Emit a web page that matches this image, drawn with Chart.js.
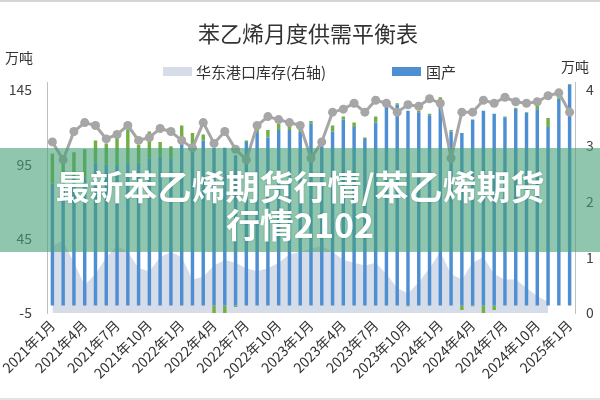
<!DOCTYPE html>
<html><head><meta charset="utf-8">
<script src="https://cdn.jsdelivr.net/npm/chart.js@4.4.1/dist/chart.umd.min.js"></script>
<style>
html,body{margin:0;padding:0;background:#fff;}
#wrap{position:relative;width:600px;height:400px;overflow:hidden;background:#fff;}
#clip{position:absolute;left:0;top:0;width:594px;height:400px;overflow:hidden;}
#c{position:absolute;left:0;top:0;}
.txt{position:absolute;font-family:"Noto Sans CJK SC",sans-serif;color:#333;white-space:nowrap;}
.box{position:absolute;width:29px;height:9px;}
#banner{position:absolute;left:0;top:148px;width:600px;height:104px;background:rgba(70,160,120,0.6);
 color:#fff;font-family:"Noto Sans CJK SC",sans-serif;font-weight:bold;font-size:34px;line-height:38px;
 text-align:center;box-sizing:border-box;padding-top:19px;text-shadow:0 0 2px rgba(0,80,50,0.35);}
#topline{position:absolute;left:0;top:0;width:600px;height:2px;background:#d4d4d4;}
#botline{position:absolute;left:0;bottom:0;width:600px;height:2px;background:#e2e2e2;}
</style></head>
<body>
<div id="wrap">
 <div id="clip"><canvas id="c" width="616" height="400"></canvas></div>
 <div class="txt" style="left:5px;top:47px;font-size:14px;">万吨</div>
 <div class="txt" style="left:561px;top:56px;font-size:14px;">万吨</div>
 <div class="box" style="left:163px;top:67px;background:#d6dde9;"></div>
 <div class="txt" style="left:196px;top:61px;font-size:15px;">华东港口库存(右轴)</div>
 <div class="box" style="left:392px;top:67px;background:#4e8fd3;"></div>
 <div class="txt" style="left:426px;top:61px;font-size:15px;">国产</div>
 <div id="banner">最新苯乙烯期货行情/苯乙烯期货<br>行情2102</div>
 <div id="topline"></div><div id="botline"></div>
</div>
<script>
const months = [];
for (let y = 2021; y <= 2025; y++) for (let m = 1; m <= 12; m++) { if (y === 2025 && m > 1) break; months.push(y + '年' + m + '月'); }

// 国产 (万吨, left axis)
const domestic = [82,82,85,85,96,95,95,96,96,99,100,99,
  110,108,111,106,106,101,110,116,113,118,118,117,
  122.5,107,117,125,120,112,123,134.5,135,131,130,128,
  137,117,116,125,131,129,126.5,132.5,129.5,132,120,139,148.5];
// 净进口 (stacked on 国产; negative when net export)
const netImport = [20,18,18,20,15,14,18,22,12,18,10,8,
  11,8,4,-5,-5,-1,1,3,5,4,3,2,
  1.5,3,4,2,3,1,4,0.5,1,-0.5,1,1,
  3,1,-3,-0.5,-5,-3,0.5,0.5,0.5,3,6,1,0.5];
// 表观需求 line (left axis)
const demand = [110,98,117,123,121,112,115,121,111,113,119,117,
  111,106,123,109,117,105,98,121,127,125,123,121,
  99,110,130,132,136,130,138,136,130,135,134,139,
  136,99,130,130,138,136,140,137,136,137,141,143,130];
// 华东港口库存 (right axis)
const portStock = [12,13,9,5,7,10,12,11,8,7.5,10,11,
  10,6,6.5,8.5,9.5,9,8,7.5,8,9,10.5,11,
  11.5,12,11,9.5,9,8.5,9,7,4.5,3.5,5.5,8,
  11,7,6,9,10,7,6,6,4.5,3,2,null,null];

const leftTicks = [-5,45,95,145];
const rightTicks = [0,10,20,30,40];

Chart.defaults.font.family = '"Noto Sans CJK SC","Noto Sans",sans-serif';
Chart.defaults.color = '#404040';

new Chart(document.getElementById('c'), {
  data: {
    labels: months,
    datasets: [
      { type:'line', label:'华东港口库存(右轴)', data: portStock, yAxisID:'y2', fill:'origin',
        backgroundColor:'#d6dde9', borderColor:'#d6dde9', borderWidth:0, pointRadius:0, tension:0, order:5 },
      { type:'bar', label:'国产', data: domestic, yAxisID:'y', stack:'s', backgroundColor:'#4e8fd3',
        barPercentage:0.32, categoryPercentage:1, order:2 },
      { type:'bar', label:'净进口', data: netImport, yAxisID:'y', stack:'s', backgroundColor:'#72b043',
        barPercentage:0.32, categoryPercentage:1, order:2 },
      { type:'line', label:'表观需求', data: demand, yAxisID:'y', stack:'line', borderColor:'#a6a6a6',
        backgroundColor:'#a6a6a6', borderWidth:3, pointRadius:4.5, pointBorderWidth:0, tension:0, fill:false, order:0 }
    ]
  },
  options: {
    responsive:false, animation:false, devicePixelRatio:1,
    layout:{ padding:0 },
    plugins:{
      title:{ display:true, text:'苯乙烯月度供需平衡表', color:'#333', font:{ size:22, weight:'normal' }, padding:{ top:20, bottom:36 } },
      legend:{ display:false },
      tooltip:{ enabled:false }
    },
    scales:{
      x:{ stacked:true, offset:true, grid:{ display:false, drawTicks:false }, border:{ display:false },
        afterFit:(s)=>{ s.height = 87; s.paddingLeft = 0; s.paddingRight = 0; },
        ticks:{ autoSkip:false, maxRotation:45, minRotation:45, padding:4, color:'#333', font:{ size:14 },
          callback:function(v,i){ return i%3===0 ? months[i] : ''; } } },
      y:{ stacked:true, position:'left', min:-5, max:150,
        afterBuildTicks:(s)=>{ s.ticks = leftTicks.map(v=>({value:v})); },
        afterFit:(s)=>{ s.width = 47; },
        grid:{ display:false, drawTicks:false }, border:{ display:true, color:'#bfbfbf', width:1 },
        ticks:{ padding:15, font:{ size:14 }, color:'#404040' } },
      y2:{ position:'right', min:0, max:40*155/150,
        afterBuildTicks:(s)=>{ s.ticks = rightTicks.map(v=>({value:v})); },
        afterFit:(s)=>{ s.width = 41; },
        grid:{ display:false, drawTicks:false }, border:{ display:true, color:'#bfbfbf', width:1 },
        ticks:{ padding:11, font:{ size:14 }, color:'#404040' } }
    }
  }
});
</script>
</body></html>
